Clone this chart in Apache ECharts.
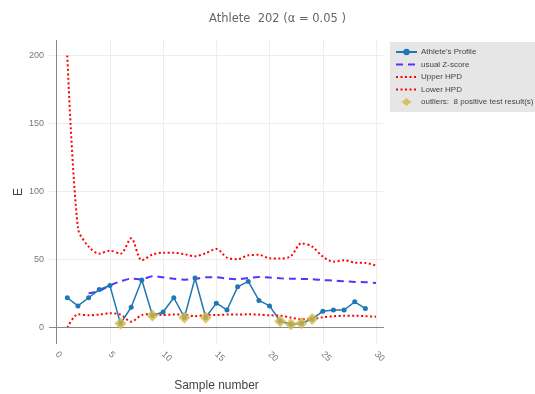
<!DOCTYPE html>
<html>
<head>
<meta charset="utf-8">
<script src="https://cdn.jsdelivr.net/npm/echarts@6/dist/echarts.min.js"></script>
<style>html,body{margin:0;padding:0;background:#fff;}#c{width:535px;height:394px;}</style>
</head>
<body>
<div id="c"></div>
<script>
var samples = [1,2,3,4,5,6,7,8,9,10,11,12,13,14,15,16,17,18,19,20,21,22,23,24,25,26,27,28,29,30];
var profile = [22,16,22,28,31,3,15,35,9,11.5,22,7.5,36.5,7.5,18,13,30,34,20,16,4.7,2.5,3.2,6.4,12,13,13,19,14];
var zscoreX = [3,4,5,6,7,8,9,10,11,12,13,14,15,16,17,18,19,20,21,22,23,24,25,26,27,28,29,30];
var zscore = [25.3,27,31,34,36,35.6,37.8,37,36,35.3,35.8,37,37,36,35.6,36.5,37.3,36.8,36.3,36,35.8,35.6,35,34.6,34.1,33.6,33.4,32.9];
var upperHPD = [200,73,59.6,54.4,56.6,54.4,65.7,49.5,53.7,55.1,55,54,52.5,54.7,57.9,51.5,50.3,53.2,53.5,51,50.8,52.5,62,59.6,52.2,48.5,49.5,47.8,47.6,45.6];
var lowerHPD = [0,9.8,9.1,9.6,10.6,9.6,4.4,9.3,10,9.3,9.6,9.6,8.4,9.3,9.3,9.6,9.6,9.8,9.6,9.1,8.8,7.4,6.2,6.4,7.6,8.4,8.8,8.8,8.4,8.1];
var outlierX = [6,9,12,14,21,22,23,24];
var xTicks = [0,5,10,15,20,25,30];
var yTicks = [0,50,100,150,200];

function pairs(xs, ys){ return ys.map(function(v,i){ return [xs[i], v]; }); }
var outlierData = outlierX.map(function(x){ return [x, profile[x-1]]; });
var outName = 'outliers:  8 positive test result(s)';

var chart = echarts.init(document.getElementById('c'), null, {renderer:'canvas'});
chart.setOption({
  animation: false,
  backgroundColor: '#fff',
  title: {
    text: 'Athlete  202 (\u03b1 = 0.05 )',
    left: 204, top: 8,
    textStyle: {fontFamily: 'DejaVu Sans', fontSize: 11.5, fontWeight: 'normal', color: '#666'}
  },
  legend: {
    orient: 'vertical', left: 390, top: 42,
    backgroundColor: '#e6e6e6', borderRadius: 0,
    padding: [6, 10, 6, 5],
    itemWidth: 21, itemHeight: 8, itemGap: 4.5,
    textStyle: {fontFamily: 'Liberation Sans', fontSize: 8, color: '#444', padding: [0,0,0,-1]},
    data: [
      {name: "Athlete's Profile"},
      {name: 'usual Z-score', itemStyle: {opacity: 0}},
      {name: 'Upper HPD', itemStyle: {opacity: 0}},
      {name: 'Lower HPD', itemStyle: {opacity: 0}},
      {name: outName, icon: 'path://M5.5,0L11,4.5L5.5,9L0,4.5Z'}
    ]
  },
  grid: {left: 49, right: 151, top: 40, bottom: 50, outerBoundsMode: 'none', containLabel: false},
  xAxis: {
    type: 'value', min: -0.72, max: 30.75,
    name: 'Sample number', nameLocation: 'middle', nameGap: 36, nameMoveOverlap: false,
    nameTextStyle: {fontFamily: 'Liberation Sans', fontSize: 12, color: '#444'},
    axisLine: {show: false},
    axisTick: {show: false, customValues: xTicks},
    axisLabel: {customValues: xTicks, rotate: -45, margin: 9, color: '#777', fontSize: 9, fontFamily: 'Liberation Sans'},
    splitLine: {show: true, lineStyle: {color: '#eeeeee', width: 1}}
  },
  yAxis: {
    type: 'value', min: -12, max: 211.4,
    name: 'E', nameLocation: 'middle', nameGap: 24, nameMoveOverlap: false,
    nameTextStyle: {fontFamily: 'Liberation Sans', fontSize: 12, color: '#444'},
    axisLine: {show: false},
    axisTick: {show: false, customValues: yTicks},
    axisLabel: {customValues: yTicks, margin: 5, color: '#777', fontSize: 9, fontFamily: 'Liberation Sans'},
    splitLine: {show: true, lineStyle: {color: '#eeeeee', width: 1}}
  },
  series: [
    {
      name: "Athlete's Profile", type: 'line', z: 4,
      data: pairs(samples, profile),
      symbol: 'circle', symbolSize: 5,
      itemStyle: {color: '#1f77b4'},
      lineStyle: {color: '#1f77b4', width: 1.5},
      markLine: {
        silent: true, symbol: 'none', label: {show: false}, animation: false,
        lineStyle: {color: '#888', width: 1, type: 'solid'},
        data: [{yAxis: 0}, {xAxis: 0}]
      }
    },
    {
      name: 'usual Z-score', type: 'line', z: 3,
      data: pairs(zscoreX, zscore), smooth: 0.3,
      showSymbol: false, symbol: 'none',
      itemStyle: {color: '#5533ff'},
      lineStyle: {color: '#5533ff', width: 2, type: [7, 5]}
    },
    {
      name: 'Upper HPD', type: 'line', z: 2,
      data: pairs(samples, upperHPD), smooth: 0.3,
      showSymbol: false, symbol: 'none',
      itemStyle: {color: '#ff0000'},
      lineStyle: {color: '#ff0000', width: 2, type: [2, 2.5]}
    },
    {
      name: 'Lower HPD', type: 'line', z: 2,
      data: pairs(samples, lowerHPD), smooth: 0.3,
      showSymbol: false, symbol: 'none',
      itemStyle: {color: '#ff0000'},
      lineStyle: {color: '#ff0000', width: 2, type: [2, 2.5]}
    },
    {
      name: outName, type: 'scatter', z: 5,
      data: outlierData,
      symbol: 'diamond', symbolSize: 12,
      itemStyle: {color: '#d4b843'}
    }
  ]
});
</script>
</body>
</html>
